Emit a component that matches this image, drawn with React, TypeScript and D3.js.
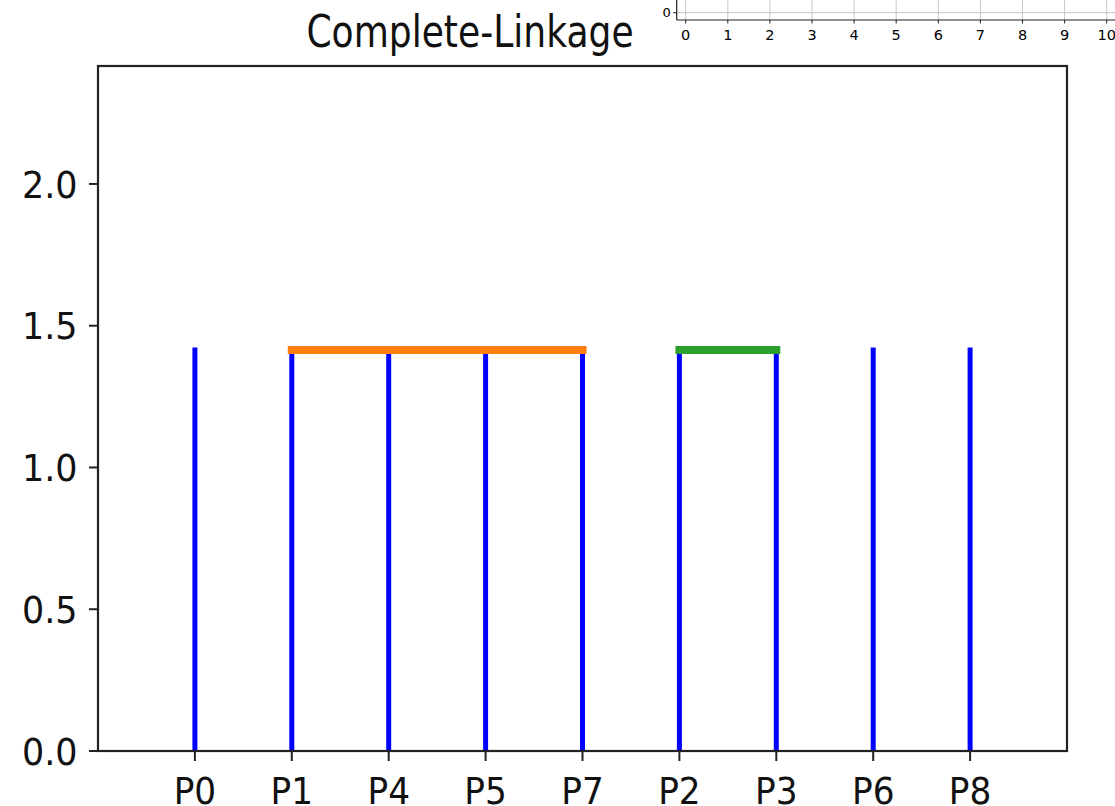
import React from "react";
import * as d3 from "d3";

const leaves = ["P0", "P1", "P4", "P5", "P7", "P2", "P3", "P6", "P8"];
const leafHeights = [1.414, 1.414, 1.414, 1.414, 1.414, 1.414, 1.414, 1.414, 1.414];
const clusterLinks = [
  { from: "P1", to: "P7", height: 1.414, color: "#ff7f0e" },
  { from: "P2", to: "P3", height: 1.414, color: "#2ca02c" },
];
const yTicks = [0.0, 0.5, 1.0, 1.5, 2.0];
const insetXTicks = [0, 1, 2, 3, 4, 5, 6, 7, 8, 9, 10];
const insetYTicks = [0];

const W = 1115;
const H = 806;
const FONT = "DejaVu Sans, sans-serif";

export default function App() {
  const left = 98, right = 1067, top = 66, bottom = 751;
  const x = d3.scaleLinear().domain([0, 100]).range([left, right]);
  const y = d3.scaleLinear().domain([0, 2.416]).range([bottom, top]);
  const leafX = (name: string) => x(10 * (leaves.indexOf(name) + 1));

  // inset axes
  const ix = d3.scaleLinear().domain([0, 10]).range([685.7, 1106.7]);
  const iy = d3.scaleLinear().domain([-0.055, 0.055]).range([20, 5.4]);
  const iLeft = ix(-0.214);
  const iBottom = 20;

  return (
    <svg width={W} height={H} style={{ position: "absolute", left: 0, top: 0, background: "#fff" }}>
      <rect x={0} y={0} width={W} height={H} fill="#fff" />
      <defs>
        <clipPath id="plotclip">
          <rect x={left} y={top} width={right - left} height={bottom - top} />
        </clipPath>
      </defs>

      {/* inset axes */}
      <g>
        {insetXTicks.map((t) => (
          <line key={"gx" + t} x1={ix(t)} x2={ix(t)} y1={-2} y2={iBottom} stroke="#c8c8c8" strokeWidth={1} />
        ))}
        {insetYTicks.map((t) => (
          <line key={"gy" + t} x1={iLeft} x2={W} y1={iy(t)} y2={iy(t)} stroke="#c8c8c8" strokeWidth={1} />
        ))}
        <line x1={iLeft} x2={W} y1={iBottom} y2={iBottom} stroke="#222" strokeWidth={1.2} />
        <line x1={iLeft} x2={iLeft} y1={-2} y2={iBottom} stroke="#222" strokeWidth={1.2} />
        {insetXTicks.map((t) => (
          <g key={"tx" + t}>
            <line x1={ix(t)} x2={ix(t)} y1={iBottom} y2={iBottom + 3.5} stroke="#222" strokeWidth={1} />
            <text x={ix(t)} y={40} textAnchor="middle" fontFamily={FONT} fontSize={14.5} fill="#000">
              {t}
            </text>
          </g>
        ))}
        {insetYTicks.map((t) => (
          <g key={"ty" + t}>
            <line x1={iLeft - 3.5} x2={iLeft} y1={iy(t)} y2={iy(t)} stroke="#222" strokeWidth={1} />
            <text x={iLeft - 6} y={iy(t)} dy="0.36em" textAnchor="end" fontFamily={FONT} fontSize={13} fill="#000">
              {t}
            </text>
          </g>
        ))}
      </g>

      {/* title */}
      <text
        transform={`translate(470,46.5) scale(0.82,1)`}
        textAnchor="middle"
        fontFamily={FONT}
        fontSize={44}
        fill="#111"
      >
        Complete-Linkage
      </text>

      {/* dendrogram */}
      <g clipPath="url(#plotclip)">
        {leaves.map((name, i) => (
          <line
            key={"v" + name}
            x1={leafX(name)}
            x2={leafX(name)}
            y1={y(0)}
            y2={y(leafHeights[i])}
            stroke="#0000ff"
            strokeWidth={5}
            strokeLinecap="square"
          />
        ))}
        {clusterLinks.map((l) => (
          <line
            key={"h" + l.from}
            x1={leafX(l.from)}
            x2={leafX(l.to)}
            y1={y(l.height)}
            y2={y(l.height)}
            stroke={l.color}
            strokeWidth={8}
            strokeLinecap="square"
          />
        ))}
      </g>

      {/* frame */}
      <rect x={left} y={top} width={right - left} height={bottom - top} fill="none" stroke="#222" strokeWidth={2.2} />

      {/* y ticks */}
      {yTicks.map((t) => (
        <g key={"yt" + t}>
          <line x1={left - 9} x2={left} y1={y(t)} y2={y(t)} stroke="#222" strokeWidth={2} />
          <text
            transform={`translate(77.5,${y(t)}) scale(0.92,1)`}
            dy="0.36em"
            textAnchor="end"
            fontFamily={FONT}
            fontSize={38}
            fill="#111"
          >
            {t.toFixed(1)}
          </text>
        </g>
      ))}

      {/* x ticks */}
      {leaves.map((name) => (
        <g key={"xt" + name}>
          <line x1={leafX(name)} x2={leafX(name)} y1={bottom} y2={bottom + 10} stroke="#222" strokeWidth={2} />
          <text
            transform={`translate(${leafX(name)},803.5) scale(0.94,1)`}
            textAnchor="middle"
            fontFamily={FONT}
            fontSize={36.5}
            fill="#111"
          >
            {name}
          </text>
        </g>
      ))}
    </svg>
  );
}
